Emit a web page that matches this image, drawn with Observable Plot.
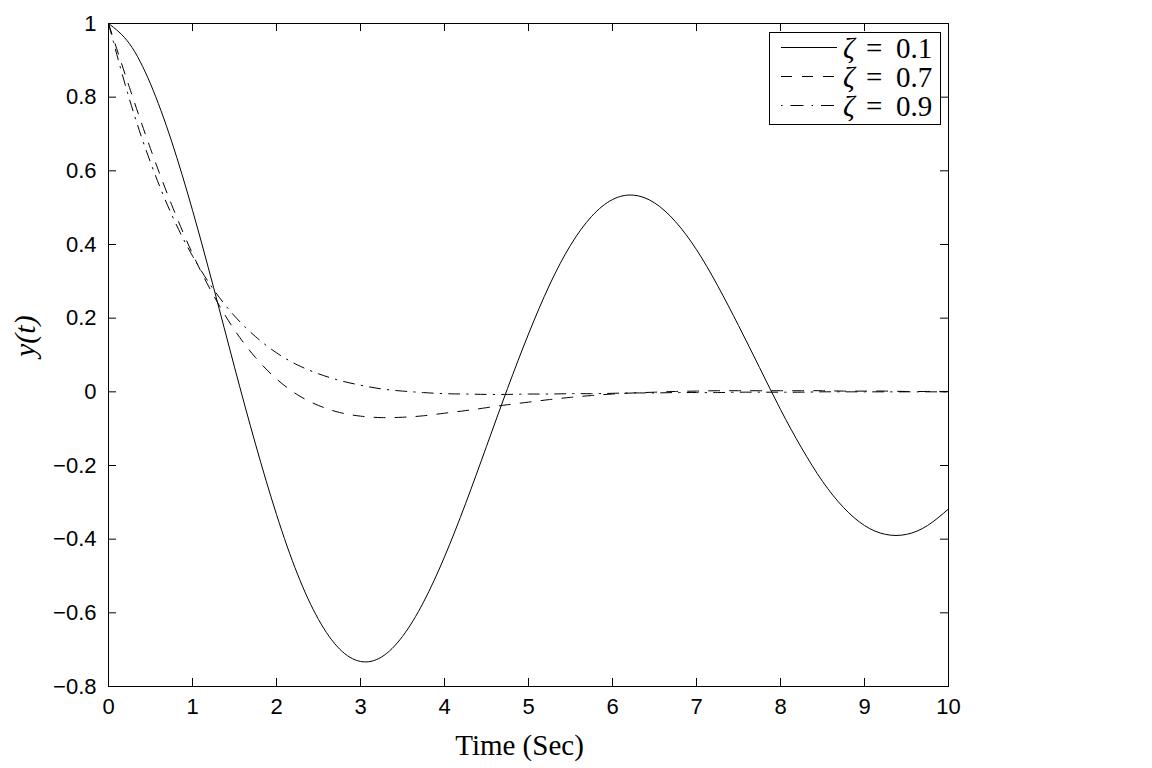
<!DOCTYPE html>
<html><head><meta charset="utf-8">
<script src="https://cdn.jsdelivr.net/npm/d3@7"></script>
<script src="https://cdn.jsdelivr.net/npm/@observablehq/plot@0.6"></script>
<style>html,body{margin:0;padding:0;background:#fff;} #chart{width:1152px;height:768px;}</style>
</head><body><div id="chart"></div>
<script>
// ---- data ----
const time = [0,0.25,0.5,0.75,1,1.25,1.5,1.75,2,2.25,2.5,2.75,3,3.25,3.5,3.75,4,4.25,4.5,4.75,5,5.25,5.5,5.75,6,6.25,6.5,6.75,7,7.25,7.5,7.75,8,8.25,8.5,8.75,9,9.25,9.5,9.75,10];
const zeta01 = [1,0.945,0.836,0.681,0.493,0.284,0.067,-0.142,-0.333,-0.495,-0.618,-0.698,-0.732,-0.720,-0.664,-0.571,-0.448,-0.304,-0.148,0.009,0.157,0.290,0.398,0.476,0.522,0.534,0.513,0.462,0.386,0.289,0.180,0.066,-0.048,-0.152,-0.243,-0.314,-0.363,-0.387,-0.387,-0.363,-0.318];
const zeta07 = [1,0.826,0.660,0.509,0.375,0.262,0.168,0.093,0.035,-0.008,-0.037,-0.056,-0.066,-0.070,-0.069,-0.065,-0.058,-0.051,-0.043,-0.035,-0.028,-0.021,-0.015,-0.010,-0.006,-0.003,-0.001,0.001,0.002,0.003,0.003,0.003,0.003,0.003,0.003,0.002,0.002,0.002,0.001,0.001,0.001];
const zeta09 = [1,0.794,0.623,0.482,0.369,0.278,0.206,0.150,0.106,0.073,0.049,0.031,0.018,0.008,0.002,-0.002,-0.005,-0.006,-0.007,-0.007,-0.006,-0.006,-0.005,-0.005,-0.004,-0.003,-0.003,-0.002,-0.002,-0.002,-0.001,-0.001,-0.001,-0.001,0,0,0,0,0,0,0];
const seriesNames = ["0.1","0.7","0.9"];
const xTicks = [0,1,2,3,4,5,6,7,8,9,10];
const xTickLabels = ["0","1","2","3","4","5","6","7","8","9","10"];
const yTicks = [-0.8,-0.6,-0.4,-0.2,0,0.2,0.4,0.6,0.8,1];
const yTickLabels = ["\u22120.8","\u22120.6","\u22120.4","\u22120.2","0","0.2","0.4","0.6","0.8","1"];
const xTitle = "Time (Sec)";
const yTitle = "y(t)";

// ---- build tables ----
const toRows = (vals) => time.map((t, i) => ({t, y: vals[i]}));
const rows01 = toRows(zeta01), rows07 = toRows(zeta07), rows09 = toRows(zeta09);

const W = 1152, H = 768, mL = 108, mR = 204, mT = 23, mB = 82;
const innerW = W - mL - mR, innerH = H - mT - mB;
const TK = 8;
const dashStyle = "11,10";
const dashDotStyle = "11,7,1.5,7";
const sans = "'Liberation Sans', Arial, Helvetica, sans-serif";
const serif = "'Liberation Serif', 'Times New Roman', serif";

const svg = Plot.plot({
  width: W, height: H,
  marginLeft: mL, marginRight: mR, marginTop: mT, marginBottom: mB,
  style: {fontFamily: sans, fontSize: "22px", background: "#fff", color: "#000", overflow: "visible"},
  x: {domain: [0, 10]},
  y: {domain: [-0.8, 1]},
  marks: [
    Plot.axisX(xTicks, {tickSize: 0, tickPadding: 12, fontSize: 22, tickFormat: d => xTickLabels[xTicks.indexOf(d)], label: null}),
    Plot.axisY(yTicks, {tickSize: 0, tickPadding: 12, fontSize: 22, tickFormat: d => yTickLabels[yTicks.indexOf(d)], label: null}),
    Plot.tickX(xTicks, {x: d => d, insetTop: innerH - TK, stroke: "#000"}),
    Plot.tickX(xTicks, {x: d => d, insetBottom: innerH - TK, stroke: "#000"}),
    Plot.tickY(yTicks, {y: d => d, insetRight: innerW - TK, stroke: "#000"}),
    Plot.tickY(yTicks, {y: d => d, insetLeft: innerW - TK, stroke: "#000"}),
    Plot.line(rows01, {x: "t", y: "y", stroke: "#000", strokeWidth: 1, curve: "natural"}),
    Plot.line(rows07, {x: "t", y: "y", stroke: "#000", strokeWidth: 1, curve: "natural", strokeDasharray: dashStyle}),
    Plot.line(rows09, {x: "t", y: "y", stroke: "#000", strokeWidth: 1, curve: "natural", strokeDasharray: dashDotStyle}),
    Plot.frame({stroke: "#000"}),
    Plot.text([xTitle], {text: d => d, frameAnchor: "bottom", dx: -9, dy: 59, lineAnchor: "middle", fontFamily: serif, fontSize: 29, fill: "#000"}),
    Plot.text([yTitle], {text: d => d, frameAnchor: "left", dx: -83, dy: 2, rotate: -90, lineAnchor: "middle", fontFamily: serif, fontSize: 30, fontStyle: "italic", fill: "#000"})
  ]
});
document.getElementById("chart").appendChild(svg);

// ---- legend (inside the frame, top right) ----
const lg = d3.select(svg).append("g").attr("class", "legend").attr("text-anchor", "start");
lg.append("rect").attr("x", 769.5).attr("y", 32.5).attr("width", 171).attr("height", 92)
  .attr("fill", "#fff").attr("stroke", "#000").attr("stroke-width", 1);
const styles = [null, dashStyle, "1.5,8,13,8"];
const rowY = [47.5, 76.5, 105.5];
seriesNames.forEach((name, i) => {
  lg.append("line").attr("x1", 781).attr("x2", 837).attr("y1", rowY[i]).attr("y2", rowY[i])
    .attr("stroke", "#000").attr("stroke-width", 1).attr("stroke-dasharray", styles[i]);
  const put = (x, s, italic) => lg.append("text").attr("x", x).attr("y", rowY[i] + 10)
    .attr("text-anchor", "start")
    .style("font-family", serif).style("font-size", "29px").style("font-style", italic ? "italic" : "normal")
    .attr("fill", "#000").text(s);
  put(843, "\u03B6", true);
  put(866, "=", false);
  put(896, name, false);
});
</script>
</body></html>
